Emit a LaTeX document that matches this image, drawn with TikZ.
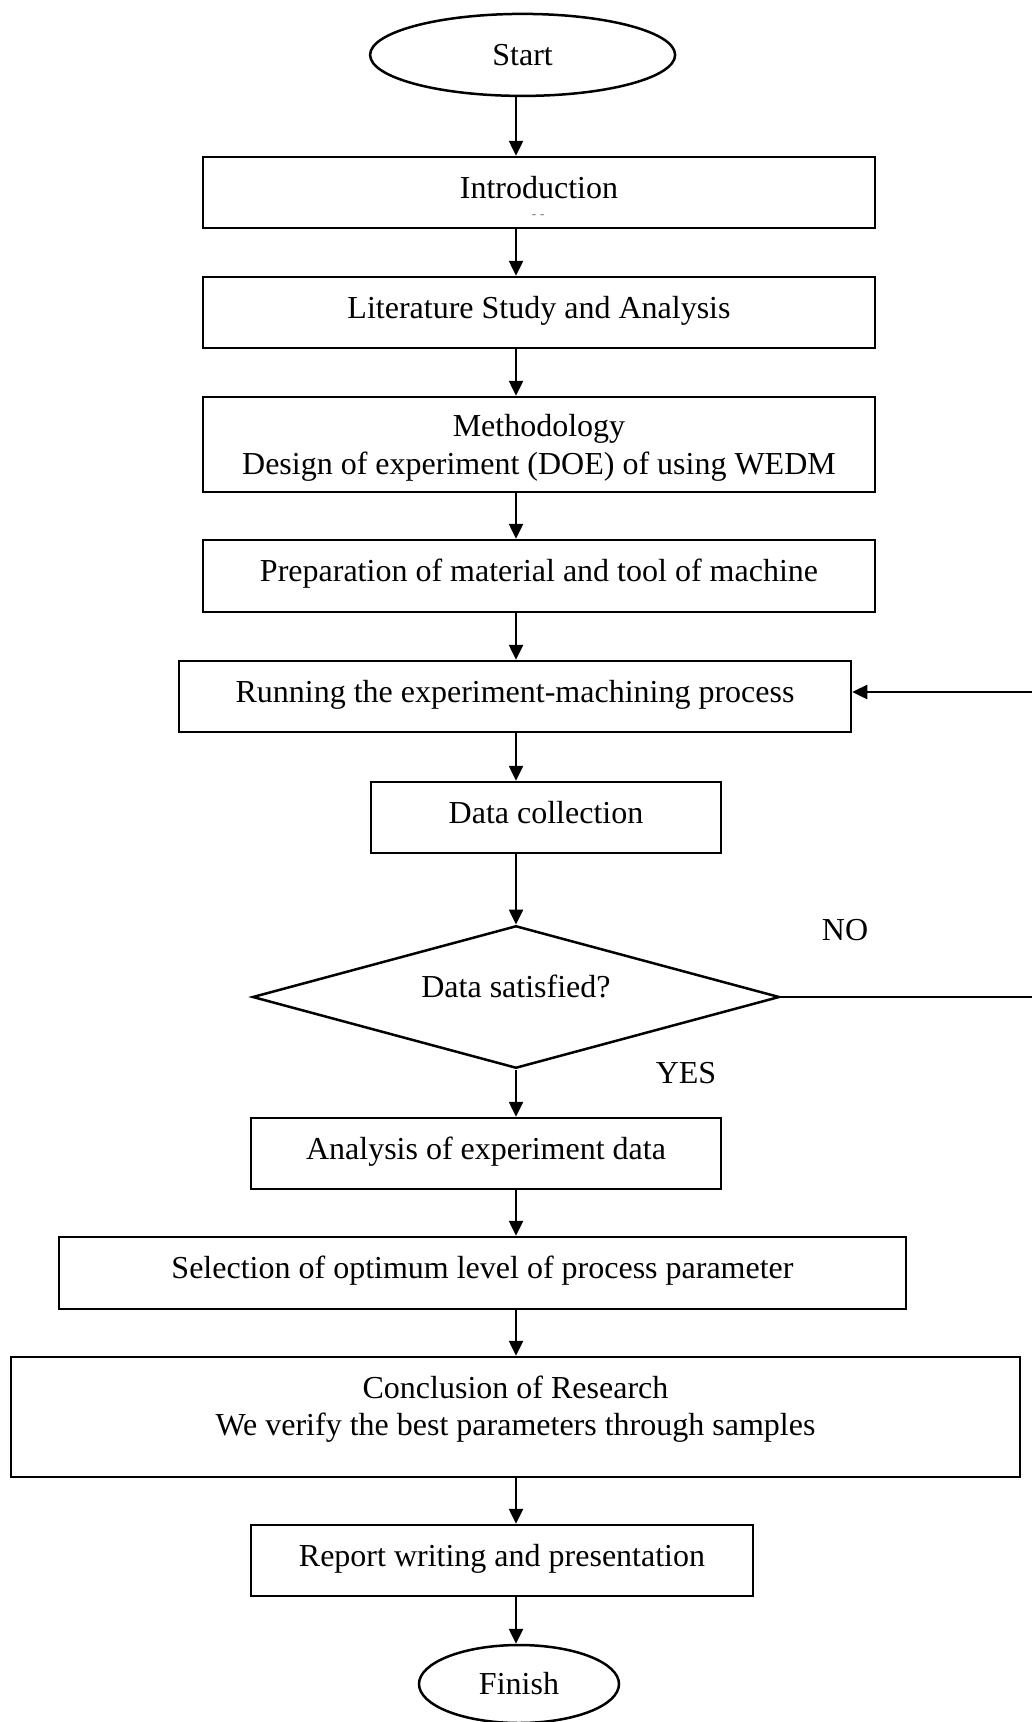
\documentclass[tikz,border=0pt]{standalone}
\usepackage{fontspec}
\setmainfont{Liberation Serif}
\usetikzlibrary{shapes.geometric,arrows.meta}

\tikzset{
  every node/.style={font=\fontsize{32pt}{37.5pt}\selectfont},
  box/.style={draw, line width=2.5pt, rectangle, minimum height=71pt, inner sep=0pt, text height=21pt, text depth=10pt},
  twobox/.style={draw, line width=2.5pt, rectangle, inner sep=0pt},
  terminal/.style={draw, line width=2.5pt, ellipse, inner sep=0pt},
  decide/.style={draw, line width=2.5pt, diamond, aspect=3.7, inner sep=0pt, text depth=22pt},
  arr/.style={line width=2.5pt, -{Triangle[length=15pt,width=14pt]}}
}

\begin{document}
\begin{tikzpicture}[x=1pt,y=-1pt]
 \useasboundingbox (0,0) rectangle (1032,1722);
 \coordinate (spine) at (516,0);

 \node[terminal, minimum width=305pt, minimum height=82pt] (start) at (522.6,54.9) {Start};
 \node[box, minimum width=672pt] (intro) at (539,192.5) {Introduction};
 \node[text=gray, font=\fontsize{14pt}{16pt}\selectfont] (dash) at (538,217) {- -};
 \node[box, minimum width=672pt] (lit) at (539,312.5) {Literature Study and Analysis};
 \node[twobox, minimum width=672pt, minimum height=95pt] (meth) at (539,444.5) {};
 \node[align=center] (methT) at ([yshift=-3.5pt]meth.center)
   {Methodology\\Design of experiment (DOE) of using WEDM};
 \node[box, minimum width=672pt, minimum height=72pt] (prep) at (539,576) {Preparation of material and tool of machine};
 \node[box, minimum width=672pt] (run) at (515,696.5) {Running the experiment-machining process};
 \node[box, minimum width=350pt] (data) at (546,817.5) {Data collection};
 \node[decide, minimum width=527pt, minimum height=142.5pt] (ask) at (516,997) {Data satisfied?};
 \node (no) at (845,930) {NO};
 \node (yes) at (686,1073) {YES};
 \node[box, minimum width=470pt] (anal) at (486,1153.5) {Analysis of experiment data};
 \node[box, minimum width=847pt, minimum height=72pt] (sel) at (482.5,1273) {Selection of optimum level of process parameter};
 \node[twobox, minimum width=1009pt, minimum height=120pt] (concl) at (515.5,1417) {};
 \node[align=center] (conclT) at ([yshift=8pt]concl.center)
   {Conclusion of Research\\We verify the best parameters through samples};
 \node[box, minimum width=502pt] (report) at (502,1560.5) {Report writing and presentation};
 \node[terminal, minimum width=200pt, minimum height=78pt] (finish) at (519,1684) {Finish};

 \draw[arr] (start.south -| spine) -- (intro.north -| spine);
 \draw[arr] (intro.south -| spine) -- (lit.north -| spine);
 \draw[arr] (lit.south -| spine) -- (meth.north -| spine);
 \draw[arr] (meth.south -| spine) -- (prep.north -| spine);
 \draw[arr] (prep.south -| spine) -- (run.north -| spine);
 \draw[arr] (run.south -| spine) -- (data.north -| spine);
 \draw[arr] (data.south -| spine) -- (ask.north);
 \draw[arr] (ask.south) -- (anal.north -| spine);
 \draw[arr] (anal.south -| spine) -- (sel.north -| spine);
 \draw[arr] (sel.south -| spine) -- (concl.north -| spine);
 \draw[arr] (concl.south -| spine) -- (report.north -| spine);
 \draw[arr] (report.south -| spine) -- (finish.north -| spine);

 % NO branch runs off the right edge and back
 \coordinate (edge) at (1045,997);
 \draw[arr] (ask.east) -- (edge) |- ([yshift=4.5pt]run.east);
\end{tikzpicture}
\end{document}
